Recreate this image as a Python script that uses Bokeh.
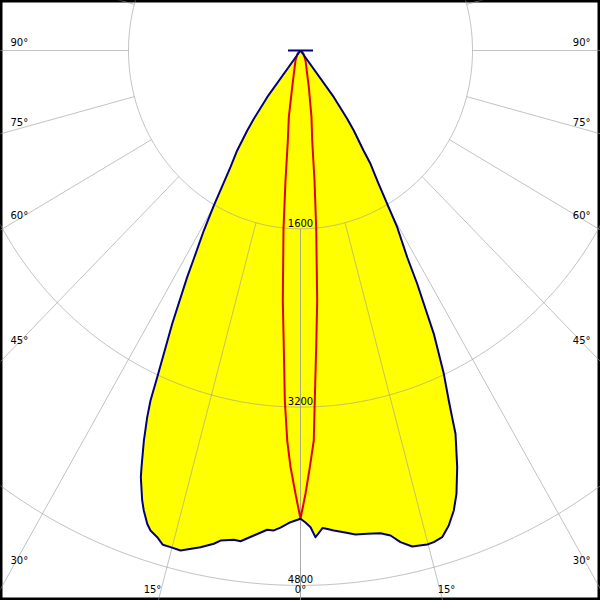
import numpy as np
from bokeh.plotting import figure
from bokeh.models import Range1d
from bokeh.embed import file_html
from bokeh.resources import INLINE
from bokeh.core.properties import value

# ---------------- data (gamma angle in degrees, intensity in cd) ----------------
# C0 plane (drawn on the right half, blue outline / yellow fill)
c0_gamma = [0, 0.63, 1.25, 1.83, 2.73, 3.35, 4.11, 5.32, 6.72, 8.14, 9.75, 10.89, 11.9,
            13.14, 14.89, 15.7, 16.79, 17.93, 19.06, 20.04, 21.3, 22.75, 23.2, 23.71,
            24.68, 26.0, 26.65, 27.41, 28.15, 29.57, 30.38, 31.3, 32.64, 33.15, 34.63,
            35.33, 36.5, 37.0, 90]
c0_cd = [4202, 4236, 4279, 4370, 4290, 4301, 4318, 4341, 4373, 4381, 4395, 4432, 4509,
         4570, 4587, 4583, 4562, 4480, 4367, 4234, 4013, 3729, 3580, 3430,
         3193, 2829, 2590, 2358, 2104, 1823, 1595, 1397, 1207, 1072, 872,
         751, 521, 0, 0]

# C180 plane (drawn on the left half)
c180_gamma = [0, 1.26, 2.49, 3.3, 4.12, 5.7, 7.22, 8.04, 9.6, 10.33, 11.79, 13.97, 15.18,
              16.1, 16.97, 17.95, 18.56, 19.45, 20.04, 21.2, 21.58, 22.6, 23.43, 23.95,
              24.45, 25.95, 27.4, 27.97, 29.1, 30.1, 31.9, 33.3, 34.6, 35.3, 36.5, 37.0, 90]
c180_cd = [4202, 4234, 4285, 4314, 4312, 4374, 4439, 4434, 4460, 4499, 4553, 4623, 4618,
           4617, 4566, 4528, 4480, 4378, 4298, 4107, 4021, 3791, 3586, 3437,
           3220, 2727, 2291, 2116, 1849, 1608, 1233, 1073, 872, 751, 521, 0, 0]

# C90 plane (right half, red)
c90_gamma = [0, 0.67, 1.33, 2.02, 2.42, 3.14, 3.96, 5.22, 6.37, 7.67, 9.7, 13.2, 27.4, 45, 90]
c90_cd = [4202, 3978, 3740, 3502, 3144, 2666, 2249, 1604, 1174, 815, 607, 338, 101, 40, 0]

# C270 plane (left half, red)
c270_gamma = [0, 0.67, 1.42, 2.02, 2.66, 3.34, 4.2, 5.65, 6.82, 8.3, 10.3, 13.2, 27.4, 45, 90]
c270_cd = [4202, 3978, 3740, 3502, 3144, 2667, 2249, 1605, 1175, 816, 608, 338, 101, 40, 0]

ring_values = [1600, 3200, 4800]
ring_labels = ["1600", "3200", "4800"]
side_angle_labels = ["90°", "75°", "60°", "45°", "30°"]
bottom_angle_labels = ["15°", "0°", "15°"]

# ---------------- layout (reference picture pixels) ----------------
REF = 600.0
CX, CY = 300.0, 50.0
SX = 172.0 / 1600.0     # px per cd, horizontal
SY = 178.3 / 1600.0     # px per cd, vertical
SIZE = 600


def px(xp, yp):
    return (np.asarray(xp, float) - CX) / SX, -(np.asarray(yp, float) - CY) / SY


def polar(gamma, cd, side):
    g = np.radians(np.asarray(gamma, float))
    r = np.asarray(cd, float)
    return side * r * np.sin(g), -r * np.cos(g)


p = figure(width=SIZE, height=SIZE, output_backend="svg", toolbar_location=None,
           x_range=Range1d(-CX / SX, (REF - CX) / SX),
           y_range=Range1d(-(REF - CY) / SY, CY / SY),
           x_axis_type=None, y_axis_type=None, min_border=0,
           background_fill_color="white", border_fill_color="white")
p.xgrid.visible = False
p.ygrid.visible = False
p.outline_line_color = "black"
p.outline_line_width = 4

# filled C0-C180 distribution
lx, ly = polar(c180_gamma[::-1], c180_cd[::-1], -1)
rx, ry = polar(c0_gamma, c0_cd, 1)
bx = np.concatenate([lx, rx])
by = np.concatenate([ly, ry])
p.patch(bx, by, fill_color="#ffff00", line_color=None)

# grid: rings and rays
t = np.linspace(0, 2 * np.pi, 721)
ring_xs = [list(r * np.sin(t)) for r in ring_values]
ring_ys = [list(r * np.cos(t)) for r in ring_values]
p.multi_line(ring_xs, ring_ys, line_color="#9a9a9a", line_alpha=0.6, line_width=1)

ray_xs, ray_ys = [], []
for side in (-1, 1):
    for a in range(0, 181, 15):
        g = np.radians(a)
        r0, r1 = ring_values[0], 9000
        ray_xs.append([side * r0 * np.sin(g), side * r1 * np.sin(g)])
        ray_ys.append([-r0 * np.cos(g), -r1 * np.cos(g)])
p.multi_line(ray_xs, ray_ys, line_color="#9a9a9a", line_alpha=0.6, line_width=1)

FONT = value("DejaVu Sans")
FS = "10px"

# ring value labels
p.text(x=[0] * len(ring_values), y=[-r for r in ring_values], text=ring_labels,
       text_font=FONT, text_font_size=FS, text_align="center", text_baseline="bottom",
       text_color="black", y_offset=-2)

# angle labels on both sides
label_py = [42, 122, 215, 340, 560]
lx_, ly_ = px([10] * 5, label_py)
p.text(x=list(lx_), y=list(ly_), text=side_angle_labels, text_font=FONT, text_font_size=FS,
       text_align="left", text_baseline="middle", text_color="black")
rx_, ry_ = px([590] * 5, label_py)
p.text(x=list(rx_), y=list(ry_), text=side_angle_labels, text_font=FONT, text_font_size=FS,
       text_align="right", text_baseline="middle", text_color="black")
bx_, by_ = px([152, 300, 446], [589, 589, 589])
p.text(x=list(bx_), y=list(by_), text=bottom_angle_labels, text_font=FONT, text_font_size=FS,
       text_align="center", text_baseline="middle", text_color="black")

# C90-C270 curve (red)
qx1, qy1 = polar(c270_gamma[::-1], c270_cd[::-1], -1)
qx2, qy2 = polar(c90_gamma, c90_cd, 1)
p.line(np.concatenate([qx1, qx2]), np.concatenate([qy1, qy2]),
       line_color="#e00000", line_width=2, line_join="round")

# C0-C180 outline (blue)
p.line(bx, by, line_color="#000080", line_width=2, line_join="round")

# luminaire symbol at the centre
half = 12.5 / SX
p.segment(x0=[-half], y0=[0], x1=[half], y1=[0], line_color="#000080", line_width=2)

open("out.html", "w").write(file_html(p, INLINE))
